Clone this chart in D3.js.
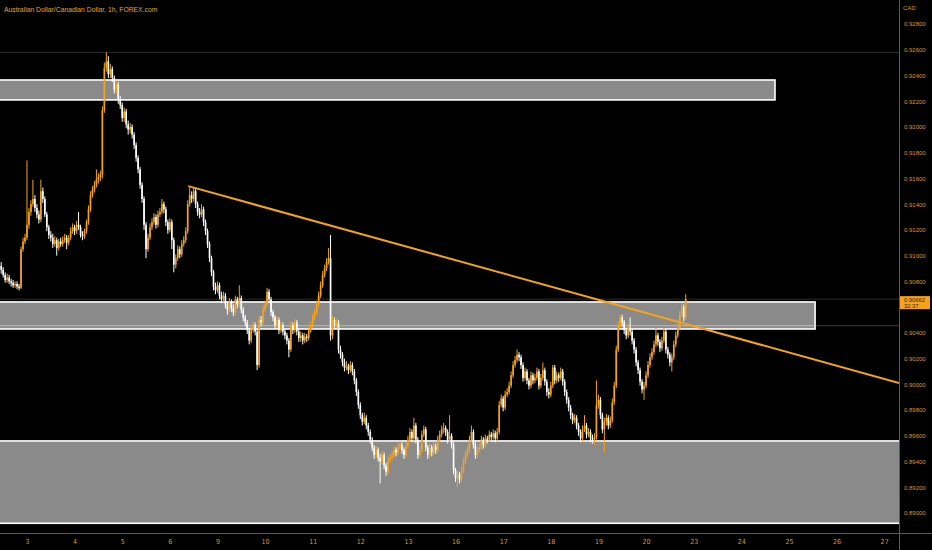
<!DOCTYPE html>
<html>
<head>
<meta charset="utf-8">
<script src="https://cdn.jsdelivr.net/npm/d3@7/dist/d3.min.js"></script>
<style>
  html, body { margin: 0; padding: 0; background: #000; overflow: hidden; }
</style>
</head>
<body>
<svg id="chart"></svg>
<script>
// AUDCAD 1h candles (price, 4 decimals)
const title = "Australian Dollar/Canadian Dollar, 1h, FOREX.com";
const currencyLabel = "CAD";
const dayLabels = ["3", "4", "5", "6", "9", "10", "11", "12", "13", "16", "17", "18", "19", "20", "23", "24", "25", "26", "27"];
const firstDayIndex = 13; // candle index of the "3" midnight
const hoursPerDay = 24;

const firstOpen = 0.9092;
const closes = [
  .9089,.9085,.9081,.9083,.9080,.9079,.9077,.9078,.9076,.9075,
  .9105,.9111,.9114,.9124,.9134,.9140,.9144,.9137,.9132,.9128,
  .9150,.9144,.9132,.9122,.9116,.9114,.9109,.9112,.9106,.9111,
  .9109,.9112,.9114,.9110,.9114,.9119,.9122,.9119,.9124,.9122,
  .9116,.9115,.9119,.9126,.9136,.9147,.9151,.9155,.9159,.9161,
  .9163,.9213,.9246,.9251,.9241,.9245,.9238,.9229,.9233,.9221,
  .9217,.9207,.9212,.9202,.9198,.9200,.9194,.9186,.9176,.9167,
  .9155,.9144,.9124,.9105,.9114,.9122,.9126,.9130,.9124,.9132,
  .9134,.9140,.9136,.9126,.9120,.9126,.9112,.9093,.9098,.9105,
  .9101,.9109,.9112,.9119,.9140,.9147,.9144,.9150,.9140,.9134,
  .9132,.9136,.9126,.9119,.9109,.9098,.9087,.9076,.9073,.9077,
  .9069,.9066,.9069,.9062,.9058,.9064,.9059,.9056,.9066,.9062,
  .9067,.9058,.9052,.9048,.9042,.9034,.9042,.9046,.9041,.9015,
  .9050,.9048,.9058,.9062,.9072,.9066,.9056,.9052,.9046,.9050,
  .9042,.9046,.9041,.9038,.9034,.9027,.9046,.9042,.9048,.9041,
  .9036,.9038,.9034,.9037,.9036,.9042,.9046,.9052,.9056,.9062,
  .9069,.9077,.9085,.9090,.9095,.9098,.9038,.9050,.9046,.9048,
  .9027,.9023,.9017,.9013,.9014,.9011,.9015,.9010,.9003,.8994,
  .8984,.8976,.8971,.8974,.8968,.8963,.8957,.8951,.8945,.8949,
  .8943,.8940,.8945,.8937,.8932,.8941,.8943,.8945,.8949,.8947,
  .8951,.8953,.8949,.8945,.8952,.8957,.8963,.8958,.8968,.8957,
  .8945,.8949,.8961,.8965,.8951,.8945,.8951,.8947,.8952,.8949,
  .8957,.8961,.8965,.8966,.8963,.8957,.8960,.8953,.8933,.8927,
  .8930,.8926,.8933,.8940,.8945,.8949,.8957,.8963,.8953,.8945,
  .8949,.8951,.8957,.8953,.8958,.8957,.8961,.8959,.8962,.8958,
  .8963,.8984,.8989,.8982,.8992,.8994,.8999,.9007,.9015,.9019,
  .9023,.9021,.9015,.9005,.9010,.9003,.8999,.9007,.9003,.9005,
  .9010,.8999,.9005,.9011,.9002,.8994,.8992,.8999,.9013,.9003,
  .9007,.9005,.9010,.9002,.8994,.8988,.8982,.8976,.8972,.8974,
  .8968,.8963,.8958,.8965,.8968,.8961,.8963,.8958,.8957,.8959,
  .8984,.8988,.8976,.8965,.8971,.8974,.8968,.8972,.8986,.8999,
  .9027,.9046,.9052,.9048,.9042,.9038,.9044,.9041,.9034,.9027,
  .9017,.9011,.9002,.8996,.8999,.9007,.9015,.9021,.9025,.9031,
  .9038,.9033,.9028,.9034,.9041,.9027,.9023,.9017,.9021,.9031,
  .9038,.9044,.9054,.9060,.9052,.90662
];
const highs = [
  .9095,.9091,.9087,.9086,.9085,.9082,.9081,.9080,.9080,.9078,
  .9107,.9114,.9117,.9174,.9137,.9143,.9159,.9147,.9140,.9135,
  .9159,.9153,.9146,.9134,.9124,.9119,.9117,.9115,.9114,.9113,
  .9114,.9115,.9117,.9116,.9116,.9122,.9125,.9124,.9127,.9134,
  .9124,.9119,.9121,.9128,.9139,.9150,.9154,.9158,.9167,.9164,
  .9166,.9216,.9250,.9258,.9255,.9249,.9247,.9240,.9236,.9235,
  .9224,.9219,.9215,.9214,.9205,.9203,.9202,.9196,.9188,.9178,
  .9169,.9157,.9146,.9126,.9117,.9125,.9129,.9133,.9132,.9135,
  .9137,.9144,.9142,.9138,.9128,.9129,.9128,.9114,.9101,.9108,
  .9107,.9112,.9115,.9122,.9143,.9153,.9150,.9153,.9152,.9142,
  .9137,.9140,.9138,.9128,.9121,.9111,.9100,.9089,.9079,.9080,
  .9079,.9072,.9072,.9071,.9064,.9067,.9066,.9062,.9069,.9068,
  .9077,.9069,.9060,.9054,.9050,.9044,.9045,.9049,.9048,.9043,
  .9053,.9053,.9061,.9065,.9075,.9074,.9068,.9058,.9054,.9053,
  .9052,.9049,.9048,.9043,.9040,.9036,.9049,.9048,.9051,.9050,
  .9043,.9041,.9040,.9040,.9039,.9045,.9049,.9055,.9059,.9065,
  .9072,.9080,.9088,.9093,.9098,.9106,.9116,.9053,.9052,.9051,
  .9050,.9030,.9025,.9020,.9018,.9016,.9018,.9017,.9012,.9005,
  .8996,.8986,.8978,.8978,.8976,.8970,.8965,.8959,.8953,.8952,
  .8951,.8946,.8948,.8947,.8939,.8944,.8946,.8948,.8952,.8951,
  .8954,.8956,.8955,.8951,.8955,.8960,.8966,.8965,.8974,.8970,
  .8959,.8952,.8964,.8968,.8967,.8953,.8954,.8953,.8955,.8954,
  .8960,.8964,.8968,.8970,.8968,.8965,.8976,.8962,.8955,.8935,
  .8933,.8932,.8936,.8943,.8948,.8952,.8960,.8968,.8965,.8955,
  .8952,.8954,.8960,.8959,.8961,.8960,.8964,.8963,.8965,.8964,
  .8966,.8987,.8992,.8991,.8995,.8997,.9002,.9010,.9018,.9022,
  .9027,.9025,.9023,.9017,.9013,.9012,.9005,.9010,.9009,.9008,
  .9013,.9012,.9008,.9017,.9013,.9004,.8997,.9002,.9015,.9015,
  .9010,.9009,.9013,.9012,.9004,.8996,.8990,.8984,.8978,.8977,
  .8976,.8970,.8965,.8968,.8976,.8970,.8966,.8965,.8961,.8962,
  .9003,.8992,.8990,.8978,.8974,.8977,.8976,.8975,.8989,.9002,
  .9030,.9049,.9054,.9054,.9050,.9044,.9047,.9052,.9043,.9036,
  .9029,.9019,.9013,.9004,.9002,.9010,.9018,.9024,.9028,.9034,
  .9044,.9040,.9035,.9037,.9044,.9043,.9029,.9025,.9024,.9034,
  .9041,.9047,.9057,.9063,.9062,.9070
];
const lows = [
  .9086,.9083,.9079,.9079,.9078,.9076,.9075,.9075,.9074,.9073,
  .9074,.9103,.9109,.9112,.9121,.9131,.9138,.9134,.9129,.9125,
  .9126,.9141,.9130,.9119,.9113,.9111,.9106,.9107,.9100,.9104,
  .9107,.9107,.9110,.9105,.9108,.9112,.9117,.9116,.9117,.9120,
  .9114,.9112,.9113,.9117,.9124,.9134,.9145,.9149,.9153,.9156,
  .9158,.9160,.9211,.9243,.9238,.9238,.9235,.9226,.9226,.9218,
  .9214,.9204,.9204,.9199,.9194,.9195,.9191,.9183,.9173,.9164,
  .9152,.9141,.9120,.9098,.9103,.9112,.9120,.9124,.9121,.9122,
  .9130,.9132,.9133,.9123,.9117,.9118,.9105,.9087,.9090,.9096,
  .9098,.9099,.9107,.9110,.9117,.9138,.9141,.9142,.9137,.9131,
  .9129,.9130,.9123,.9116,.9106,.9095,.9084,.9073,.9070,.9071,
  .9066,.9063,.9064,.9059,.9054,.9056,.9056,.9053,.9054,.9059,
  .9060,.9055,.9049,.9045,.9039,.9031,.9032,.9040,.9038,.9011,
  .9013,.9045,.9046,.9056,.9060,.9063,.9053,.9049,.9043,.9044,
  .9039,.9040,.9038,.9035,.9031,.9021,.9025,.9039,.9040,.9038,
  .9033,.9033,.9031,.9032,.9033,.9034,.9040,.9044,.9050,.9054,
  .9060,.9067,.9075,.9083,.9088,.9093,.9034,.9035,.9043,.9044,
  .9024,.9020,.9014,.9010,.9011,.9008,.9009,.9007,.9000,.8991,
  .8981,.8973,.8968,.8969,.8965,.8960,.8954,.8948,.8942,.8943,
  .8940,.8923,.8938,.8934,.8929,.8930,.8939,.8941,.8943,.8944,
  .8945,.8949,.8946,.8942,.8943,.8950,.8955,.8955,.8956,.8954,
  .8942,.8943,.8947,.8959,.8948,.8942,.8943,.8944,.8945,.8946,
  .8947,.8955,.8959,.8962,.8960,.8954,.8955,.8950,.8930,.8924,
  .8920,.8923,.8924,.8931,.8938,.8943,.8947,.8955,.8950,.8942,
  .8943,.8947,.8949,.8950,.8951,.8954,.8955,.8956,.8957,.8955,
  .8956,.8961,.8982,.8979,.8980,.8990,.8992,.8997,.9005,.9013,
  .9017,.9018,.9012,.9002,.9003,.9000,.8996,.8997,.9000,.9001,
  .9003,.8996,.8997,.9003,.8999,.8991,.8989,.8990,.8997,.9000,
  .9001,.9002,.9003,.8999,.8991,.8985,.8979,.8973,.8969,.8970,
  .8965,.8960,.8955,.8956,.8963,.8958,.8959,.8955,.8954,.8953,
  .8957,.8981,.8973,.8962,.8947,.8968,.8965,.8966,.8970,.8984,
  .8997,.9025,.9044,.9045,.9039,.9035,.9036,.9038,.9031,.9024,
  .9014,.9008,.8999,.8993,.8988,.8997,.9005,.9013,.9019,.9023,
  .9029,.9030,.9025,.9026,.9032,.9024,.9020,.9014,.9010,.9019,
  .9029,.9036,.9042,.9052,.9049,.9050
];

// drawn objects, in candle-index / price units
const zoneStart = [-3, -3, -3];
const zoneEnd = [390, 410.2, 460];
const zoneTop = [0.92365, 0.9064, 0.8956];
const zoneBottom = [0.9221, 0.9043, 0.8892];
const trendIdx = [94.3, 452.5];
const trendPrice = [0.9154, 0.9001];
const guideLevels = [0.9258, 0.90662, 0.90455]; // session high, last price, level
const lastPrice = 0.90662;
const countdown = "32:37";

const dims = {
  width: 932,
  height: 550,
  plotRight: 899,
  plotBottom: 533,
};

const orange = "#f5a21d";
const axisText = "#d9982c";
const axisLine = "#7a5618";
const font = "Liberation Sans, Arial, sans-serif";

const candles = closes.map((c, i) => ({
  i,
  open: i === 0 ? firstOpen : closes[i - 1],
  close: c,
  high: highs[i],
  low: lows[i],
}));

const svg = d3
  .select("#chart")
  .attr("width", dims.width)
  .attr("height", dims.height)
  .attr("viewBox", [0, 0, dims.width, dims.height])
  .style("display", "block");

svg.append("rect").attr("width", dims.width).attr("height", dims.height).attr("fill", "#000");

const xScale = d3.scaleLinear().domain([-0.6, 452.5]).range([0, dims.plotRight]);
const yScale = d3.scaleLinear().domain([0.89, 0.928]).range([513, 24]);
const step = xScale(1) - xScale(0);

svg
  .append("defs")
  .append("clipPath")
  .attr("id", "plot-clip")
  .append("rect")
  .attr("width", dims.plotRight)
  .attr("height", dims.plotBottom);

const plot = svg.append("g").attr("clip-path", "url(#plot-clip)");

// faint horizontal guides
plot
  .append("g")
  .selectAll("line")
  .data(guideLevels)
  .enter()
  .append("line")
  .attr("x1", 0)
  .attr("x2", dims.plotRight)
  .attr("y1", (d) => yScale(d))
  .attr("y2", (d) => yScale(d))
  .attr("stroke", (d, i) => (i === 0 ? "#2e2e2e" : i === 1 ? "#3a2a22" : "#3a3a3a"))
  .attr("stroke-width", 1);

// zones
plot
  .append("g")
  .attr("id", "zones")
  .selectAll("rect")
  .data(zoneTop.map((t, k) => k))
  .enter()
  .append("rect")
  .attr("x", (k) => xScale(zoneStart[k]))
  .attr("width", (k) => xScale(zoneEnd[k]) - xScale(zoneStart[k]))
  .attr("y", (k) => yScale(zoneTop[k]))
  .attr("height", (k) => yScale(zoneBottom[k]) - yScale(zoneTop[k]))
  .attr("fill", "#8a8a8a")
  .attr("stroke", "#ffffff")
  .attr("stroke-width", 1.6);

// level line seen through the middle zone
plot
  .append("line")
  .attr("x1", 0)
  .attr("x2", xScale(zoneEnd[1]))
  .attr("y1", yScale(guideLevels[2]))
  .attr("y2", yScale(guideLevels[2]))
  .attr("stroke", "#bdbdbd")
  .attr("stroke-width", 1);

// candles
const cg = plot
  .append("g")
  .attr("id", "candles")
  .selectAll("g")
  .data(candles)
  .enter()
  .append("g")
  .attr("fill", (d) => (d.close >= d.open ? orange : "#ffffff"))
  .attr("stroke", (d) => (d.close >= d.open ? orange : "#ffffff"));

cg.append("line")
  .attr("x1", (d) => xScale(d.i))
  .attr("x2", (d) => xScale(d.i))
  .attr("y1", (d) => yScale(d.high))
  .attr("y2", (d) => yScale(d.low))
  .attr("stroke-width", 1);

cg.append("rect")
  .attr("x", (d) => xScale(d.i) - step * 0.42)
  .attr("width", step * 0.84)
  .attr("y", (d) => yScale(Math.max(d.open, d.close)))
  .attr("height", (d) => Math.max(1, Math.abs(yScale(d.open) - yScale(d.close))))
  .attr("stroke", "none");

// trend line
plot
  .append("line")
  .attr("x1", xScale(trendIdx[0]))
  .attr("y1", yScale(trendPrice[0]))
  .attr("x2", xScale(trendIdx[1]))
  .attr("y2", yScale(trendPrice[1]))
  .attr("stroke", orange)
  .attr("stroke-width", 2);

// axes lines
svg
  .append("line")
  .attr("x1", 0)
  .attr("x2", dims.width)
  .attr("y1", dims.plotBottom + 0.5)
  .attr("y2", dims.plotBottom + 0.5)
  .attr("stroke", axisLine);
svg
  .append("line")
  .attr("x1", dims.plotRight + 0.5)
  .attr("x2", dims.plotRight + 0.5)
  .attr("y1", 0)
  .attr("y2", dims.height)
  .attr("stroke", axisLine);

// right price axis (the tick hidden under the last-price tag is left out)
const tagY = yScale(lastPrice);
const priceTicks = yScale.ticks(19).filter((t) => Math.abs(yScale(t) - tagY) > 12);
svg
  .append("g")
  .attr("id", "price-axis")
  .attr("transform", `translate(${dims.plotRight},0)`)
  .call(d3.axisRight(yScale).tickValues(priceTicks).tickFormat(d3.format(".5f")).tickSize(0))
  .call((g) => {
    g.select("path.domain").remove();
    g.selectAll(".tick text")
      .attr("x", 5)
      .attr("fill", axisText)
      .attr("font-size", 6)
      .attr("font-family", font);
  });

svg
  .append("text")
  .attr("x", 903)
  .attr("y", 10)
  .attr("fill", axisText)
  .attr("font-size", 6)
  .attr("font-family", font)
  .text(currencyLabel);

// last price tag
svg
  .append("rect")
  .attr("x", dims.plotRight + 1)
  .attr("y", tagY - 3)
  .attr("width", 30)
  .attr("height", 13)
  .attr("fill", orange);
svg
  .append("text")
  .attr("x", 904)
  .attr("y", tagY + 2.5)
  .attr("fill", "#3b2606")
  .attr("font-size", 5.8)
  .attr("font-family", font)
  .text(d3.format(".5f")(lastPrice));
svg
  .append("text")
  .attr("x", 904)
  .attr("y", tagY + 8.5)
  .attr("fill", "#3b2606")
  .attr("font-size", 5.8)
  .attr("font-family", font)
  .text(countdown);

// bottom day axis
const dayTicks = dayLabels.map((d, k) => firstDayIndex + k * hoursPerDay);
svg
  .append("g")
  .attr("id", "time-axis")
  .attr("transform", `translate(0,${dims.plotBottom})`)
  .call(
    d3
      .axisBottom(xScale)
      .tickValues(dayTicks)
      .tickFormat((d, k) => dayLabels[k])
      .tickSize(0)
  )
  .call((g) => {
    g.select("path.domain").remove();
    g.selectAll(".tick text")
      .attr("y", 6)
      .attr("fill", axisText)
      .attr("font-size", 7)
      .attr("font-family", "Liberation Sans Narrow, DejaVu Sans Condensed, sans-serif");
  });

// title
svg
  .append("text")
  .attr("x", 4)
  .attr("y", 11.5)
  .attr("fill", "#e8a131")
  .attr("font-size", 6.8)
  .attr("font-family", font)
  .text(title);
</script>
</body>
</html>
